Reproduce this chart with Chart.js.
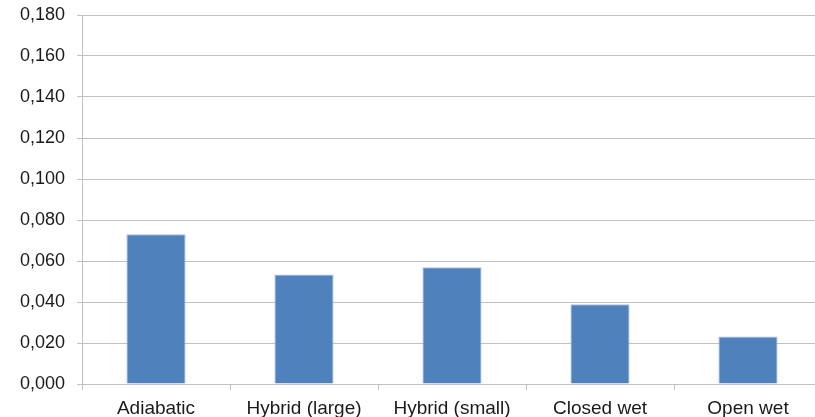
<!DOCTYPE html>
<html>
<head>
<meta charset="utf-8">
<script src="https://cdn.jsdelivr.net/npm/chart.js@4/dist/chart.umd.min.js"></script>
<style>
  html, body { margin: 0; padding: 0; background: #fff; overflow: hidden; }
  #wrap { width: 822px; height: 417px; }
</style>
</head>
<body>
<div id="wrap"><canvas id="c" width="822" height="417"></canvas></div>
<script>
// Cooling technologies and their values
const categories = ['Adiabatic', 'Hybrid (large)', 'Hybrid (small)', 'Closed wet', 'Open wet'];
const values = [0.0731, 0.0534, 0.0569, 0.0389, 0.0232];
const yMin = 0;
const yMax = 0.18;
const yStep = 0.02;

const gridColor = '#c0c0c0';
const textColor = '#1a1a1a';
const yFont = { family: '"Liberation Sans", Arial, sans-serif', size: 18 };
const xFont = { family: '"Liberation Sans", Arial, sans-serif', size: 19 };

new Chart(document.getElementById('c'), {
  type: 'bar',
  data: {
    labels: categories,
    datasets: [{
      data: values,
      backgroundColor: '#4f81bd',
      borderColor: '#a9bfe0',
      borderWidth: 1,
      categoryPercentage: 0.8,
      barPercentage: 0.5
    }]
  },
  options: {
    responsive: false,
    animation: false,
    layout: { padding: { top: 15, right: 0, bottom: 0, left: 0 } },
    plugins: { legend: { display: false }, tooltip: { enabled: false } },
    scales: {
      x: {
        grid: {
          display: true,
          drawOnChartArea: false,
          drawTicks: true,
          tickLength: 6,
          offset: true,
          color: gridColor
        },
        border: { display: true, color: gridColor },
        ticks: { color: textColor, font: xFont, padding: 7, maxRotation: 0, autoSkip: false },
        afterFit: s => { s.height = 33; s.paddingLeft = 0; s.paddingRight = 0; }
      },
      y: {
        min: yMin,
        max: yMax,
        grid: { color: gridColor, tickLength: 5 },
        border: { display: true, color: gridColor },
        ticks: {
          stepSize: yStep,
          color: textColor,
          font: yFont,
          padding: 12,
          callback: v => v.toFixed(3).replace('.', ',')
        },
        afterFit: s => { s.width = 82; s.paddingTop = 0; s.paddingBottom = 0; }
      }
    }
  }
});
</script>
</body>
</html>
